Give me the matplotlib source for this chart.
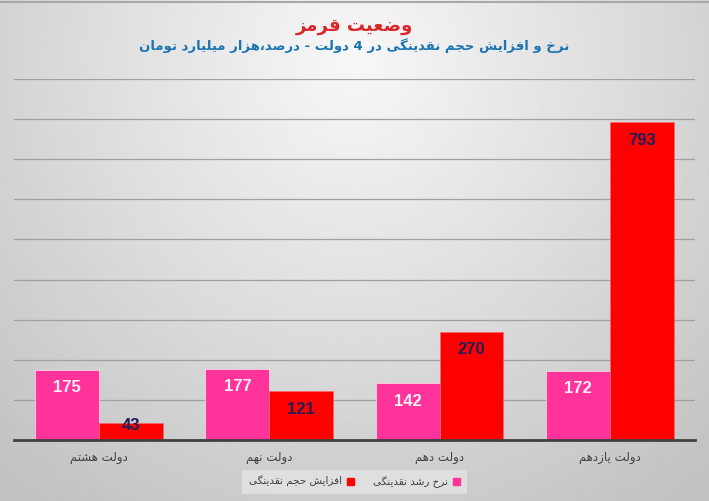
import numpy as np
import matplotlib
matplotlib.use('Agg')
import matplotlib.pyplot as plt
from matplotlib.patches import Patch

# Data
categories = ['دولت هشتم', 'دولت نهم', 'دولت دهم', 'دولت یازدهم']
growthRate = [175, 177, 142, 172]       # نرخ رشد نقدینگی (درصد)
liquidityRise = [43, 121, 270, 793]     # افزایش حجم نقدینگی (هزار میلیارد تومان)
seriesNames = ['نرخ رشد نقدینگی', 'افزایش حجم نقدینگی']
titleText = 'وضعیت قرمز'
subtitleText = 'نرخ و افزایش حجم نقدینگی در 4 دولت - درصد،هزار میلیارد تومان'

# Arabic presentation forms: isolated, final, initial, medial
forms = {
    'ا': ('\uFE8D', '\uFE8E', None, None),
    'ت': ('\uFE95', '\uFE96', '\uFE97', '\uFE98'),
    'ج': ('\uFE9D', '\uFE9E', '\uFE9F', '\uFEA0'),
    'ح': ('\uFEA1', '\uFEA2', '\uFEA3', '\uFEA4'),
    'خ': ('\uFEA5', '\uFEA6', '\uFEA7', '\uFEA8'),
    'د': ('\uFEA9', '\uFEAA', None, None),
    'ر': ('\uFEAD', '\uFEAE', None, None),
    'ز': ('\uFEAF', '\uFEB0', None, None),
    'ش': ('\uFEB5', '\uFEB6', '\uFEB7', '\uFEB8'),
    'ص': ('\uFEB9', '\uFEBA', '\uFEBB', '\uFEBC'),
    'ض': ('\uFEBD', '\uFEBE', '\uFEBF', '\uFEC0'),
    'ع': ('\uFEC9', '\uFECA', '\uFECB', '\uFECC'),
    'ف': ('\uFED1', '\uFED2', '\uFED3', '\uFED4'),
    'ق': ('\uFED5', '\uFED6', '\uFED7', '\uFED8'),
    'ل': ('\uFEDD', '\uFEDE', '\uFEDF', '\uFEE0'),
    'م': ('\uFEE1', '\uFEE2', '\uFEE3', '\uFEE4'),
    'ن': ('\uFEE5', '\uFEE6', '\uFEE7', '\uFEE8'),
    'ه': ('\uFEE9', '\uFEEA', '\uFEEB', '\uFEEC'),
    'و': ('\uFEED', '\uFEEE', None, None),
    'ی': ('\uFBFC', '\uFBFD', '\uFBFE', '\uFBFF'),
    'گ': ('\uFB92', '\uFB93', '\uFB94', '\uFB95'),
}


def shape(text):
    # join letters and reverse for display, since matplotlib has no RTL layout
    out = []
    for i, c in enumerate(text):
        if c not in forms:
            out.append(c)
            continue
        prev = text[i - 1] if i > 0 else ''
        nxt = text[i + 1] if i + 1 < len(text) else ''
        joinPrev = prev in forms and forms[prev][2] is not None
        joinNext = forms[c][2] is not None and nxt in forms
        iso, fin, ini, med = forms[c]
        if joinPrev and joinNext:
            out.append(med)
        elif joinPrev:
            out.append(fin)
        elif joinNext:
            out.append(ini)
        else:
            out.append(iso)
    return ''.join(reversed(out))


plt.rcParams['font.family'] = ['DejaVu Sans']

fig = plt.figure(figsize=(7.09, 5.01), dpi=100)

# Grey gradient background, lighter at top centre
bg = fig.add_axes([0, 0, 1, 1], zorder=-10)
yy, xx = np.mgrid[0:1:300j, 0:1:400j]
dist = np.sqrt(((xx - 0.5) / 0.75) ** 2 + ((yy - 0.12) / 1.1) ** 2)
shade = 0.97 - 0.21 * np.clip(dist, 0, 1)
bg.imshow(shade, cmap='gray', vmin=0, vmax=1, aspect='auto', extent=[0, 1, 1, 0])
bg.plot([0, 1], [0.996, 0.996], color='#a8a8a8', lw=1.5, transform=bg.transAxes)
bg.axis('off')

ax = fig.add_axes([0.0197, 0.122, 0.9605, 0.720])
ax.patch.set_alpha(0)

x = np.arange(len(categories))
w = 0.375
pinkBars = ax.bar(x - w / 2, growthRate, w, color='#ff3399', edgecolor='#ffffff', linewidth=0.4, zorder=3)
redBars = ax.bar(x + w / 2, liquidityRise, w, color='#ff0000', edgecolor='#ff6666', linewidth=0.4, zorder=3)

for b, v in zip(pinkBars, growthRate):
    ax.text(b.get_x() + b.get_width() / 2, v - 45, str(v), ha='center', va='center',
            fontsize=12, fontweight='bold', color='#fff0f8', family='Liberation Sans', zorder=4)
for b, v in zip(redBars, liquidityRise):
    ly = v - 45 if v > 100 else v - 6
    ax.text(b.get_x() + b.get_width() / 2, ly, str(v), ha='center', va='center',
            fontsize=12, fontweight='bold', color='#1f1f55', family='Liberation Sans', zorder=4)

ax.set_xlim(-0.5, len(categories) - 0.5)
ax.set_ylim(0, 900)
ax.set_yticks(np.arange(0, 901, 100))
ax.yaxis.grid(True, color='#a0a0a0', linewidth=0.9)
ax.tick_params(axis='y', length=0, labelleft=False)
ax.tick_params(axis='x', length=0, pad=8)
ax.set_xticks(x)
ax.set_xticklabels([shape(c) for c in categories], fontsize=8.5, color='#404040')
for s in ['top', 'right', 'left']:
    ax.spines[s].set_visible(False)
ax.spines['bottom'].set_color('#404040')
ax.spines['bottom'].set_linewidth(2)
ax.spines['bottom'].set_zorder(5)

fig.text(0.5, 0.948, shape(titleText), ha='center', va='center', fontsize=13,
         fontweight='bold', color='#d9262a')
fig.text(0.5, 0.910, shape(subtitleText), ha='center', va='center', fontsize=9.5,
         fontweight='bold', color='#1a74b0')

handles = [Patch(color='#ff0000'), Patch(color='#ff3399')]
labels = [shape(seriesNames[1]), shape(seriesNames[0])]
leg = fig.legend(handles, labels, loc='center', bbox_to_anchor=(0.5, 0.038), ncol=2,
                 markerfirst=False, fontsize=7.5, frameon=True, handlelength=0.7,
                 handleheight=0.7, columnspacing=1.8, handletextpad=0.5,
                 borderpad=0.6, fancybox=False)
leg.get_frame().set_facecolor('#e4e4e4')
leg.get_frame().set_edgecolor('none')
for t in leg.get_texts():
    t.set_color('#404040')

fig.savefig('out.png', dpi=100)
